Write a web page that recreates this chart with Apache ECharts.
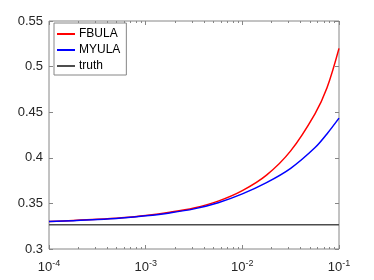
<!DOCTYPE html>
<html>
<head>
<meta charset="utf-8">
<script src="https://cdn.jsdelivr.net/npm/echarts@6/dist/echarts.min.js"></script>
<style>
html,body{margin:0;padding:0;background:#fff;}
#chart{width:374px;height:280px;}
</style>
</head>
<body>
<div id="chart"></div>
<script>
// x values as log10 exponents (x axis is logarithmic, 1e-4 .. 1e-1)
const xExp = [-4, -3.75, -3.5, -3.25, -3, -2.75, -2.5, -2.25, -2, -1.75, -1.5, -1.25, -1.125, -1];
const fbula = [0.3302, 0.3312, 0.3325, 0.3343, 0.3368, 0.3403, 0.3450, 0.3525, 0.3640, 0.3810, 0.4076, 0.4480, 0.4765, 0.5200];
const myula = [0.3302, 0.3311, 0.3323, 0.3340, 0.3364, 0.3396, 0.3440, 0.3508, 0.3605, 0.3728, 0.3885, 0.4110, 0.4262, 0.4435];
const truthValue = 0.3267;
const xMajorExps = [-4, -3, -2, -1];
const yTickValues = [0.3, 0.35, 0.4, 0.45, 0.5, 0.55];
const seriesNames = ['FBULA', 'MYULA', 'truth'];

const minorExps = [];
for (let e = -4; e < -1; e++) {
  for (let k = 2; k <= 9; k++) minorExps.push(e + Math.log10(k));
}

const axisGray = '#868686';
const labelColor = '#262626';
const font = 'Liberation Sans, Arial, Helvetica, sans-serif';

function pair(xs, ys) { return xs.map((x, i) => [x, ys[i]]); }

const baseX = {
  type: 'value', min: -4, max: -1, interval: 1,
  axisLine: { show: false }, splitLine: { show: false }
};

const chart = echarts.init(document.getElementById('chart'), null, { renderer: 'canvas' });
chart.setOption({
  animation: false,
  backgroundColor: '#fff',
  grid: { left: 49, right: 35, top: 21, bottom: 31, show: true, borderColor: axisGray, borderWidth: 1, backgroundColor: 'transparent' },
  xAxis: [
    Object.assign({}, baseX, {
      position: 'bottom',
      axisTick: { show: true, inside: true, length: 4, customValues: xMajorExps, lineStyle: { color: axisGray } },
      axisLabel: {
        margin: 6,
        fontFamily: font,
        color: labelColor,
        formatter: v => '{b|10}{s|' + v + '}',
        rich: {
          b: { fontSize: 13, fontFamily: font, color: labelColor, padding: [6, 0, 0, 0] },
          s: { fontSize: 9, fontFamily: font, color: labelColor, padding: [0, 0, 2, 0] }
        }
      }
    }),
    Object.assign({}, baseX, {
      position: 'bottom',
      axisTick: { show: true, inside: true, length: 2, customValues: minorExps, lineStyle: { color: axisGray } },
      axisLabel: { show: false }
    }),
    Object.assign({}, baseX, {
      position: 'top',
      axisTick: { show: true, inside: true, length: 4, customValues: xMajorExps, lineStyle: { color: axisGray } },
      axisLabel: { show: false }
    }),
    Object.assign({}, baseX, {
      position: 'top',
      axisTick: { show: true, inside: true, length: 2, customValues: minorExps, lineStyle: { color: axisGray } },
      axisLabel: { show: false }
    })
  ],
  yAxis: [
    {
      type: 'value', min: 0.3, max: 0.55, interval: 0.05, position: 'left',
      axisLine: { show: false }, splitLine: { show: false },
      axisTick: { show: true, inside: true, length: 4, lineStyle: { color: axisGray } },
      axisLabel: {
        margin: 6, fontSize: 13, fontFamily: font, color: labelColor,
        formatter: v => String(+v.toFixed(2))
      }
    },
    {
      type: 'value', min: 0.3, max: 0.55, interval: 0.05, position: 'right',
      axisLine: { show: false }, splitLine: { show: false },
      axisTick: { show: true, inside: true, length: 4, lineStyle: { color: axisGray } },
      axisLabel: { show: false }
    }
  ],
  legend: {
    data: seriesNames,
    orient: 'vertical',
    left: 54, top: 23,
    backgroundColor: '#fff',
    borderColor: axisGray, borderWidth: 1, borderRadius: 0,
    padding: [4, 6, 2, 3],
    itemGap: 2,
    itemWidth: 18, itemHeight: 2,
    icon: 'rect',
    textStyle: { fontSize: 12, fontFamily: font, color: '#000', lineHeight: 14, padding: [0, 0, 0, -1] }
  },
  series: [
    { name: seriesNames[0], type: 'line', data: pair(xExp, fbula), smooth: 0.35, symbol: 'none', lineStyle: { color: '#ff0000', width: 1.5 }, itemStyle: { color: '#ff0000' }, z: 3 },
    { name: seriesNames[1], type: 'line', data: pair(xExp, myula), smooth: 0.35, symbol: 'none', lineStyle: { color: '#0000ff', width: 1.5 }, itemStyle: { color: '#0000ff' }, z: 4 },
    { name: seriesNames[2], type: 'line', data: [[-4, truthValue], [-1, truthValue]], symbol: 'none', lineStyle: { color: '#4d4d4d', width: 1.5 }, itemStyle: { color: '#4d4d4d' }, z: 2 }
  ]
});
</script>
</body>
</html>
